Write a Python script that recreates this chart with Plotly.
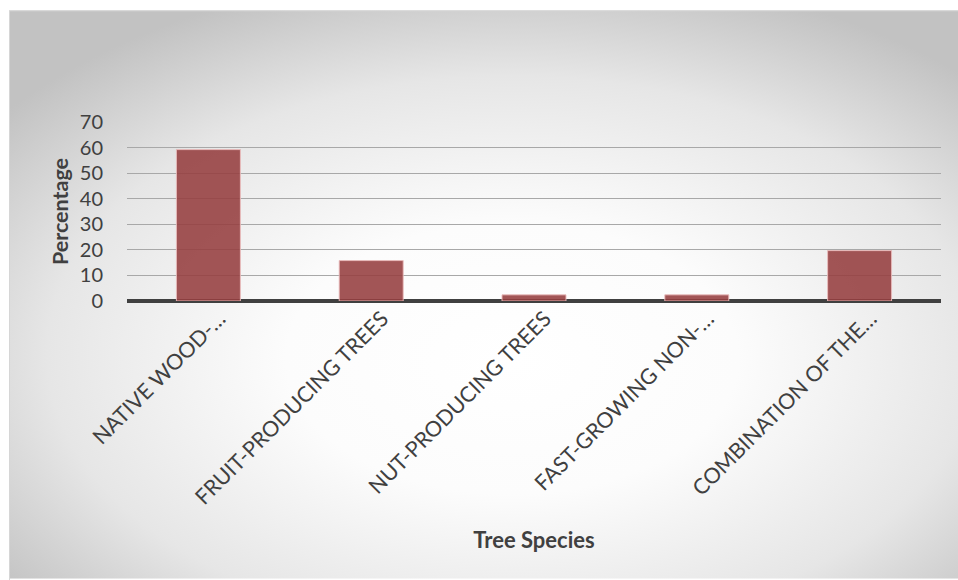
import base64
import plotly.graph_objects as go

# Survey results: share of respondents preferring each tree species
categories = [
    "NATIVE WOOD-…",
    "FRUIT-PRODUCING TREES",
    "NUT-PRODUCING TREES",
    "FAST-GROWING NON-…",
    "COMBINATION OF THE…",
]
percentages = [59.2, 15.8, 2.4, 2.4, 19.7]
y_ticks = [0, 10, 20, 30, 40, 50, 60, 70]

W, H = 958, 580
ML, MR, MT, MB = 127, 17, 122, 278.5
plot_w = W - ML - MR
plot_h = H - MT - MB

# Frame of the chart card (pixels)
FX0, FY0, FX1, FY1 = 9, 10, 958, 580

svg = (
    '<svg xmlns="http://www.w3.org/2000/svg" width="949" height="570" '
    'viewBox="0 0 949 570" preserveAspectRatio="none">'
    '<defs><radialGradient id="g" cx="0.53" cy="0.6" r="0.68" fx="0.53" fy="0.62">'
    '<stop offset="0" stop-color="#ffffff"/>'
    '<stop offset="0.35" stop-color="#fcfcfc"/>'
    '<stop offset="0.72" stop-color="#e6e6e6"/>'
    '<stop offset="1" stop-color="#c2c2c2"/>'
    '</radialGradient></defs>'
    '<rect x="0" y="0" width="949" height="570" fill="url(#g)"/>'
    '</svg>'
)
bg_src = "data:image/svg+xml;base64," + base64.b64encode(svg.encode()).decode()


def px_to_paper_x(px):
    return (px - ML) / plot_w


def px_to_paper_y(py):
    return (H - MB - py) / plot_h


fig = go.Figure(
    go.Bar(
        x=categories,
        y=percentages,
        marker=dict(
            color="rgba(149,61,63,0.88)",
            line=dict(color="rgba(235,190,190,0.9)", width=1),
        ),
        hoverinfo="x+y",
    )
)

fig.update_layout(
    width=W,
    height=H,
    margin=dict(l=ML, r=MR, t=MT, b=MB, pad=0),
    paper_bgcolor="white",
    plot_bgcolor="rgba(0,0,0,0)",
    bargap=0.607,
    showlegend=False,
    font=dict(family="Lato", color="#404040"),
    images=[
        dict(
            source=bg_src,
            xref="paper",
            yref="paper",
            x=px_to_paper_x(FX0),
            y=px_to_paper_y(FY0),
            sizex=px_to_paper_x(FX1) - px_to_paper_x(FX0),
            sizey=px_to_paper_y(FY0) - px_to_paper_y(FY1),
            xanchor="left",
            yanchor="top",
            sizing="stretch",
            layer="below",
        )
    ],
    shapes=[
        dict(
            type="rect",
            xref="paper",
            yref="paper",
            x0=px_to_paper_x(FX0 + 0.5),
            x1=px_to_paper_x(FX1 + 2),
            y0=px_to_paper_y(FY1 + 2),
            y1=px_to_paper_y(FY0 + 0.5),
            line=dict(color="#d6d6d6", width=1),
            layer="below",
        )
    ],
    xaxis=dict(
        automargin=False,
        tickangle=-45,
        tickfont=dict(size=21.5, color="#404040"),
        showgrid=False,
        showline=False,
        ticks="",
        ticklabelstandoff=0,
        ticklabelshift=11,
        title=dict(
            text="<b>Tree Species</b>",
            font=dict(size=22, color="#404040"),
            standoff=24,
        ),
    ),
    yaxis=dict(
        automargin=False,
        range=[0, 70],
        tickvals=y_ticks,
        tickfont=dict(size=20, color="#404040"),
        showgrid=True,
        gridcolor="#a8a8a8",
        gridwidth=1,
        zeroline=True,
        zerolinecolor="#404040",
        zerolinewidth=4,
        showline=False,
        ticks="outside",
        ticklen=19,
        tickcolor="rgba(0,0,0,0)",
        title=dict(
            text="<b>Percentage</b>",
            font=dict(size=21.5, color="#404040"),
            standoff=5,
        ),
    ),
)

fig.write_html("out.html")
